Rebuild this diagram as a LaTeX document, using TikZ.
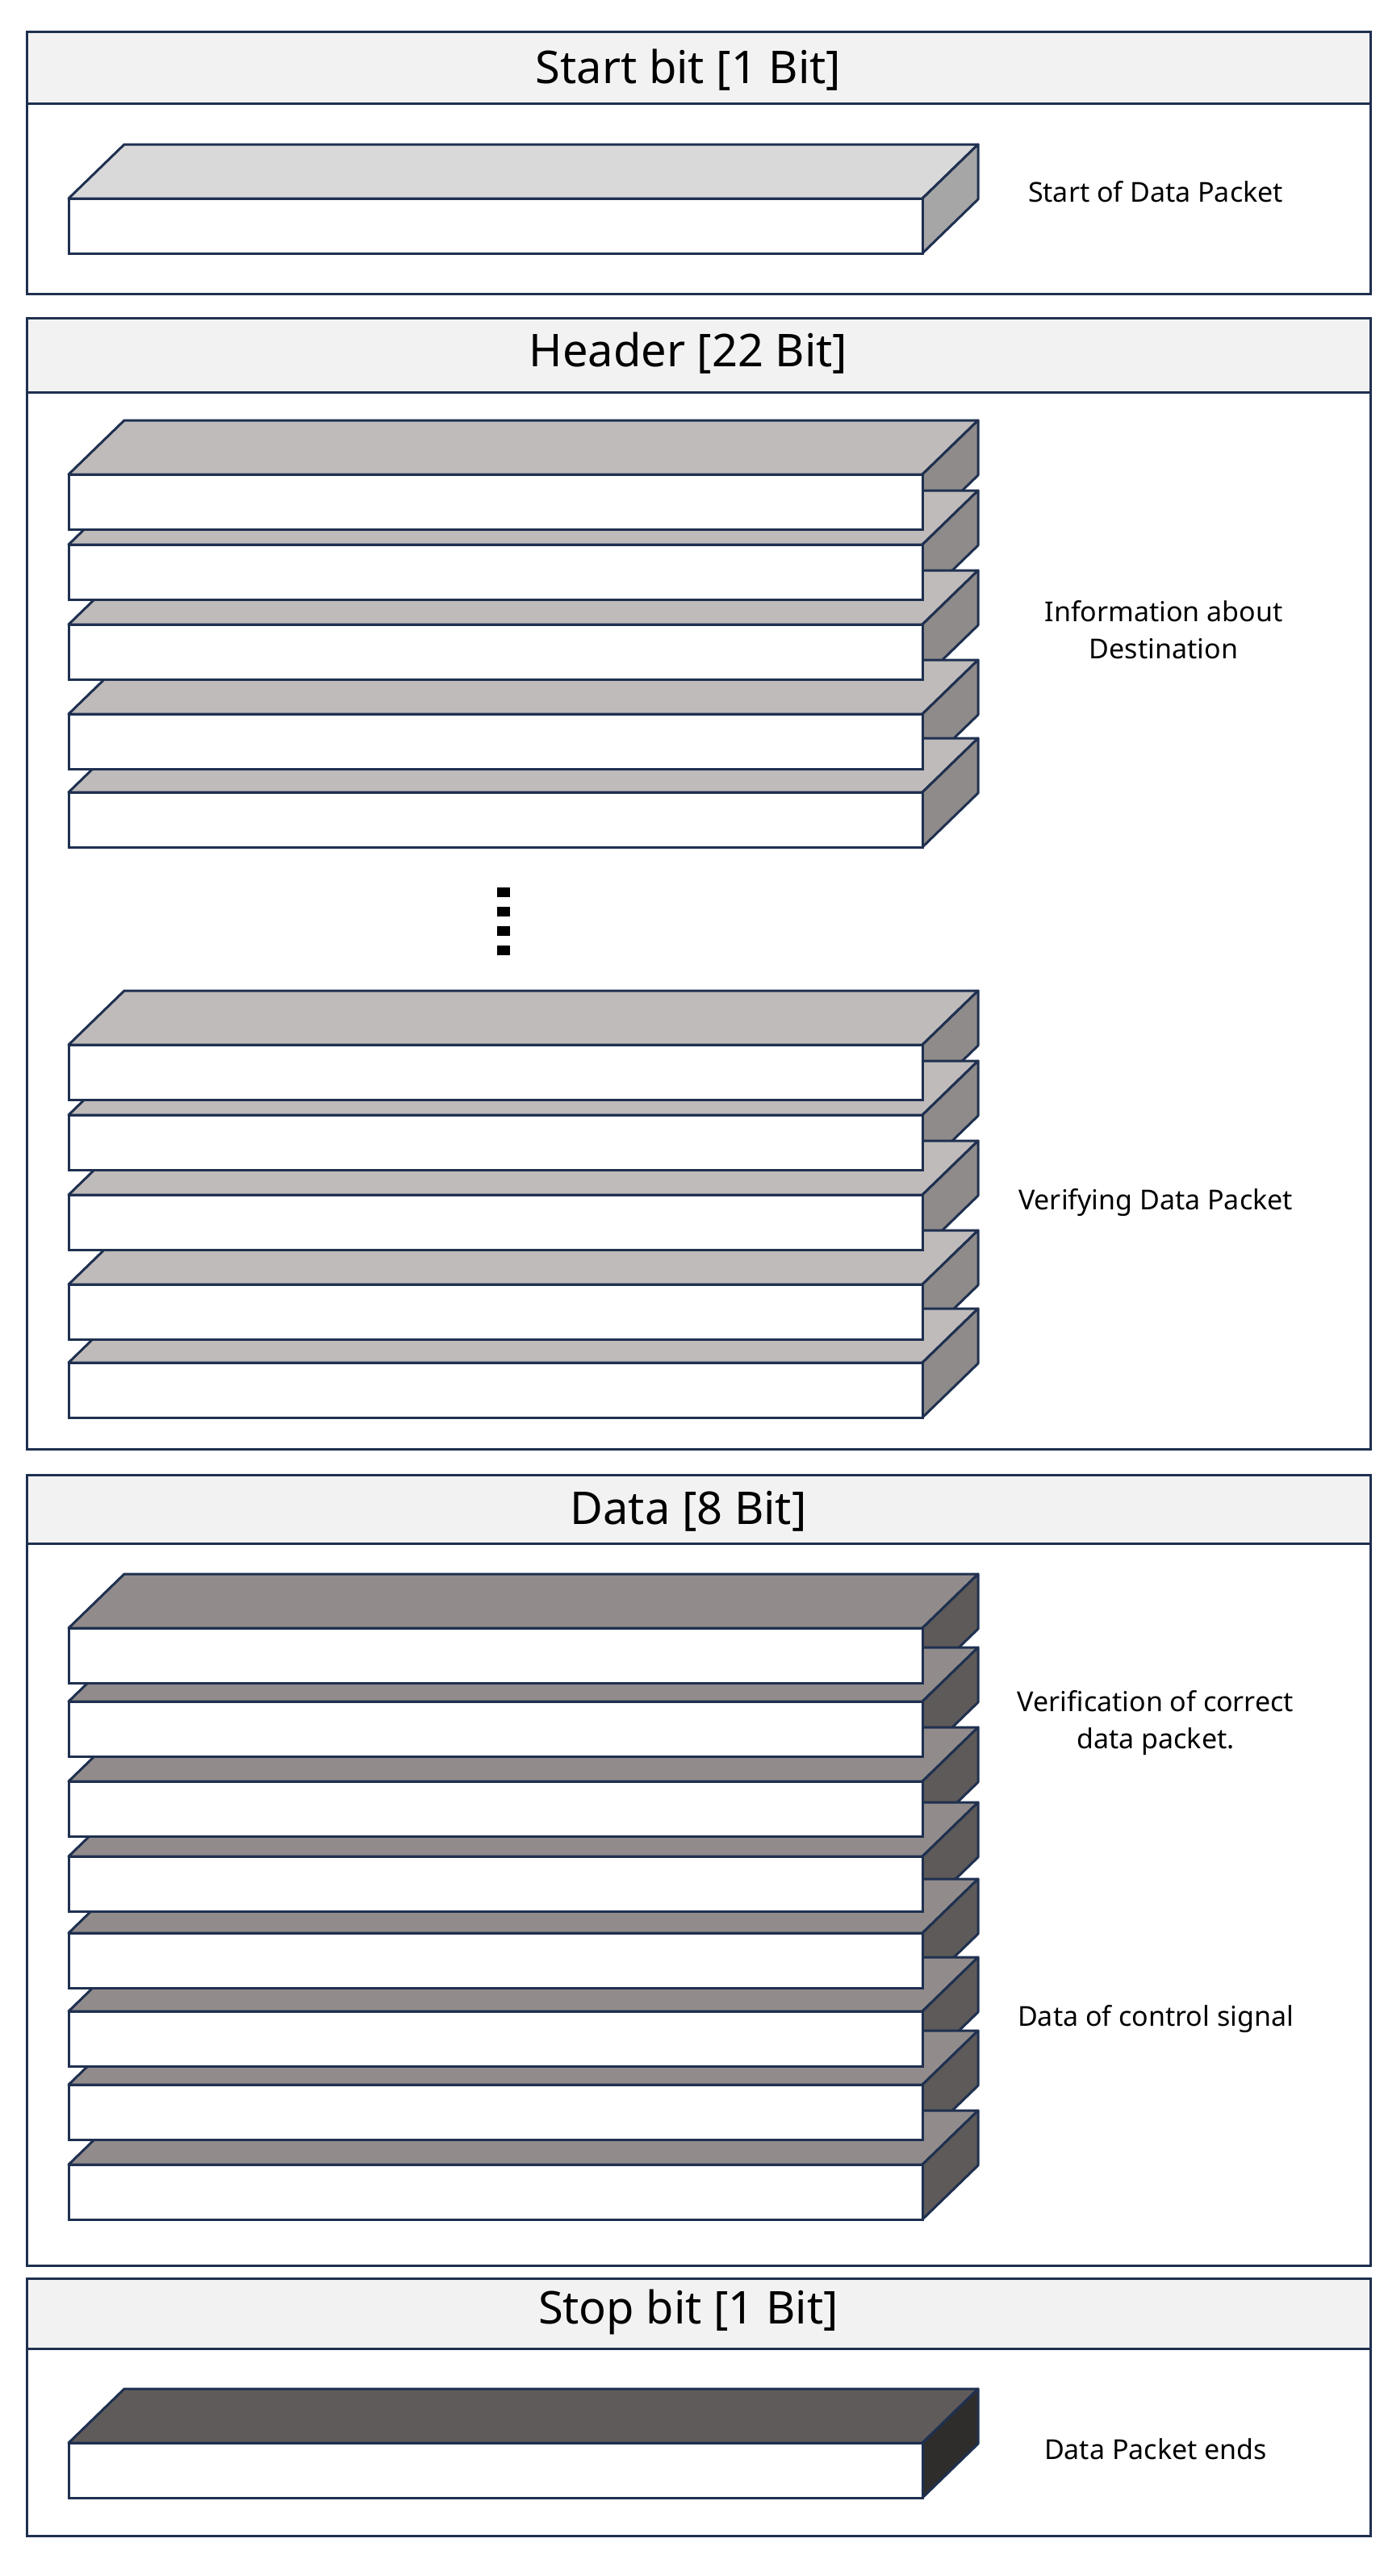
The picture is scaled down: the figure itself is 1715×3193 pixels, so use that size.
\documentclass[tikz,border=0pt]{standalone}
\usepackage{fontspec}
\setmainfont{Noto Sans}
\definecolor{navy}{HTML}{1F3050}
\definecolor{band}{HTML}{F2F2F2}
\definecolor{sT}{HTML}{D9D9D9}\definecolor{sS}{HTML}{A6A6A6}
\definecolor{hT}{HTML}{BFBBBA}\definecolor{hS}{HTML}{8F8B8A}
\definecolor{dT}{HTML}{918C8B}\definecolor{dS}{HTML}{5E5A59}
\definecolor{pT}{HTML}{5F5B5A}\definecolor{pS}{HTML}{2F2C2C}
\newcommand{\bartop}[3]{%
 \fill[#2,draw=navy,line width=3pt,line join=round] (85,#1) -- (154,#1-67) -- (1212,#1-67) -- (1143,#1) -- cycle;
 \fill[#3,draw=navy,line width=3pt,line join=round] (1143,#1) -- (1212,#1-67) -- (1212,#1+1) -- (1143,#1+68) -- cycle;}
\newcommand{\barfront}[1]{%
 \draw[fill=white,draw=navy,line width=3pt] (85,#1) rectangle (1143,#1+68);}
\tikzset{sec/.style={draw=navy,line width=3pt},
 title/.style={font=\bfseries\fontsize{56}{60}\selectfont},
 lab/.style={font=\bfseries\fontsize{34}{46}\selectfont,align=center}}
\begin{document}
\begin{tikzpicture}[x=1pt,y=-1pt]
\useasboundingbox (0,0) rectangle (1715,3193);
\fill[white] (0,0) rectangle (1715,3193);
% sections
\foreach \a/\b/\c in {40/128/364, 394/486/1796, 1828/1913/2808, 2824/2911/3143}{
 \fill[band] (33,\a) rectangle (1698,\b);
 \draw[sec] (33,\a) rectangle (1698,\c);
 \draw[sec] (33,\b) -- (1698,\b);}
\node[title] (t1) at (853,87) {Start bit [1 Bit]};
\node[title] (t2) at (853,438) {Header [22 Bit]};
\node[title] (t3) at (853,1873) {Data [8 Bit]};
\node[title] (t4) at (853,2866) {Stop bit [1 Bit]};
% start bar
\bartop{246}{sT}{sS}\barfront{246}
% header
\foreach \y in {588,675,774,885,982}{\bartop{\y}{hT}{hS}}
\foreach \y in {588,675,774,885,982}{\barfront{\y}}
\foreach \y in {1295,1382,1481,1592,1689}{\bartop{\y}{hT}{hS}}
\foreach \y in {1295,1382,1481,1592,1689}{\barfront{\y}}
\foreach \y in {1100,1124,1148,1172}{\fill[black] (616,\y) rectangle (632,\y+12);}
% data
\foreach \y in {2018,2109,2208,2301,2396,2493,2584,2683}{\bartop{\y}{dT}{dS}}
\foreach \y in {2018,2109,2208,2301,2396,2493,2584,2683}{\barfront{\y}}
% stop
\bartop{3028}{pT}{pS}\barfront{3028}
% labels
\node[lab] (l1) at (1432,238) {Start of Data Packet};
\node[lab] (l2) at (1442,781) {Information about\\Destination};
\node[lab] (l3) at (1432,1491) {Verifying Data Packet};
\node[lab] (l4) at (1432,2136) {Verification of correct\\data packet.};
\node[lab] (l5) at (1432,2503) {Data of control signal};
\node[lab] (l6) at (1432,3036) {Data Packet ends};
\end{tikzpicture}
\end{document}
